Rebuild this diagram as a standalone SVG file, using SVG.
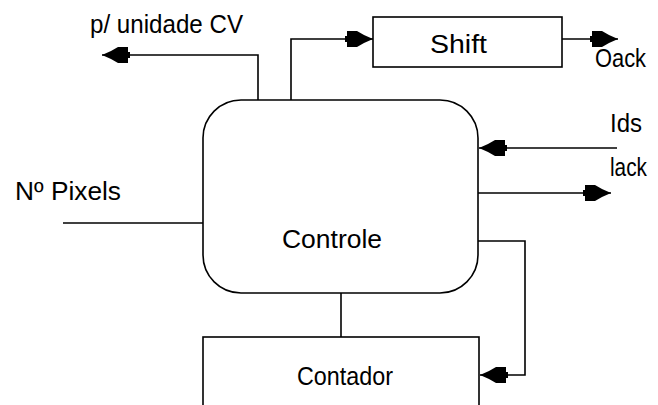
<svg xmlns="http://www.w3.org/2000/svg" width="658" height="405" viewBox="0 0 658 405">
<style>
.ln{fill:none;stroke:#000;stroke-width:1.6}
.box{fill:#fff;stroke:#000;stroke-width:1.6}
.t{font-family:"Liberation Sans",Arial,sans-serif;font-size:26px;fill:#000}
</style>
<defs>
<marker id="ah" markerUnits="userSpaceOnUse" viewBox="-28 -10 30 20" refX="0" refY="0" markerWidth="30" markerHeight="20" orient="auto">
<path d="M0,0 L-9,-4 L-16,-8 L-26,-8 L-26,-3 L-28,-3 L-28,3 L-26,3 L-26,8 L-16,8 L-9,4 Z" fill="#000"/>
</marker>
</defs>
<rect width="658" height="405" fill="#fff"/>
<g id="connectors">
<path class="ln" d="M258,100 V55 H102" marker-end="url(#ah)"/>
<path class="ln" d="M291,100 V39 H373" marker-end="url(#ah)"/>
<path class="ln" d="M562,39 H618" marker-end="url(#ah)"/>
<path class="ln" d="M617,148 H479" marker-end="url(#ah)"/>
<path class="ln" d="M478,193 H611" marker-end="url(#ah)"/>
<path class="ln" d="M63,223 H203"/>
<path class="ln" d="M478,241 H525 V375 H480" marker-end="url(#ah)"/>
<path class="ln" d="M341,293 V337"/>
</g>
<g id="controle">
<rect class="box" x="203" y="100" width="275" height="193" rx="38" ry="38"/>
<text class="t" x="282" y="248" font-size="27" textLength="100" lengthAdjust="spacingAndGlyphs">Controle</text>
</g>
<g id="shift">
<rect class="box" x="373" y="17" width="189" height="50"/>
<text class="t" x="430" y="53" font-size="27" textLength="57" lengthAdjust="spacingAndGlyphs">Shift</text>
</g>
<g id="contador">
<rect class="box" x="203" y="337" width="276" height="80"/>
<text class="t" x="297" y="385" font-size="25" textLength="96" lengthAdjust="spacingAndGlyphs">Contador</text>
</g>
<g id="labels">
<text class="t" x="90" y="33" font-size="23" textLength="153" lengthAdjust="spacingAndGlyphs">p/ unidade CV</text>
<text class="t" x="595" y="67" font-size="22" textLength="51" lengthAdjust="spacingAndGlyphs">Oack</text>
<text class="t" x="610" y="132" font-size="29" textLength="32" lengthAdjust="spacingAndGlyphs">Ids</text>
<text class="t" x="610" y="176" font-size="27" textLength="37" lengthAdjust="spacingAndGlyphs">lack</text>
<text class="t" x="15" y="200" font-size="24" textLength="106" lengthAdjust="spacingAndGlyphs">Nº Pixels</text>
</g>
</svg>
